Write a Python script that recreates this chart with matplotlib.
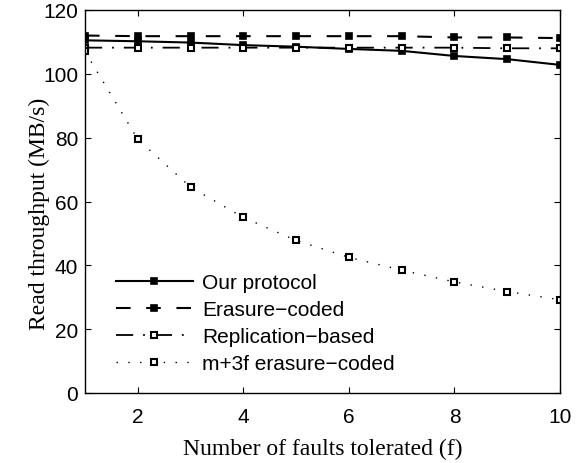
import matplotlib
matplotlib.use("Agg")
import matplotlib.pyplot as plt

faults = [1, 2, 3, 4, 5, 6, 7, 8, 9, 10]
our_protocol = [110.5, 110.2, 109.8, 109.0, 108.5, 107.8, 107.2, 105.6, 104.6, 102.8]
erasure_coded = [112.0, 111.8, 111.8, 111.8, 111.8, 111.8, 111.8, 111.4, 111.4, 111.2]
replication = [108.2, 108.2, 108.2, 108.2, 108.2, 108.2, 108.2, 108.2, 108.0, 108.0]
m3f_erasure = [107.0, 79.5, 64.5, 55.0, 47.8, 42.5, 38.5, 34.8, 31.8, 29.2]

xticks = [2, 4, 6, 8, 10]
yticks = [0, 20, 40, 60, 80, 100, 120]

fig = plt.figure(figsize=(5.85, 4.64), dpi=100)
ax = fig.add_axes([85 / 585, 70 / 464, 475 / 585, 383 / 464])

sans = ["Liberation Sans", "DejaVu Sans"]
serif = ["Liberation Serif", "DejaVu Serif"]

ax.plot(faults, our_protocol, color="black", linestyle="-", linewidth=1.5,
        marker="s", markersize=4.5, markerfacecolor="black", markeredgewidth=1.2,
        label="Our protocol")
ax.plot(faults, erasure_coded, color="black", linestyle=(0, (7, 7.5)), linewidth=1.5,
        marker="s", markersize=4.5, markerfacecolor="black", markeredgewidth=1.2,
        label="Erasure\u2212coded")
ax.plot(faults, replication, color="black", linestyle=(0, (9.5, 5.5, 1, 5.5)), linewidth=1.3,
        marker="s", markersize=4.5, markerfacecolor="white", markeredgewidth=1.5,
        label="Replication\u2212based")
ax.plot(faults, m3f_erasure, color="black", linestyle=(0, (1, 7.5)), linewidth=1.0,
        marker="s", markersize=4.5, markerfacecolor="white", markeredgewidth=1.5,
        label="m+3f erasure\u2212coded")

ax.set_xlim(1, 10)
ax.set_ylim(0, 120)
ax.set_xticks(xticks)
ax.set_yticks(yticks)
ax.tick_params(direction="in", top=True, right=True, length=4, width=0.8, labelsize=15)
ax.tick_params(axis="x", pad=10)
ax.tick_params(axis="y", pad=5)
for lab in ax.get_xticklabels() + ax.get_yticklabels():
    lab.set_family(sans)
for s in ax.spines.values():
    s.set_linewidth(1.0)

ax.set_xlabel("Number of faults tolerated (f)", fontsize=17, family=serif, labelpad=8.5)
ax.set_ylabel("Read throughput (MB/s)", fontsize=17, family=serif)
ax.yaxis.set_label_coords(-0.074, 0.47)

leg = ax.legend(loc="lower left", bbox_to_anchor=(0.047, 0.03), frameon=False,
                prop={"family": sans, "size": 15}, handlelength=3.7,
                handletextpad=0.45, labelspacing=0.38, borderaxespad=0.0)

fig.savefig("out.png", dpi=100)
